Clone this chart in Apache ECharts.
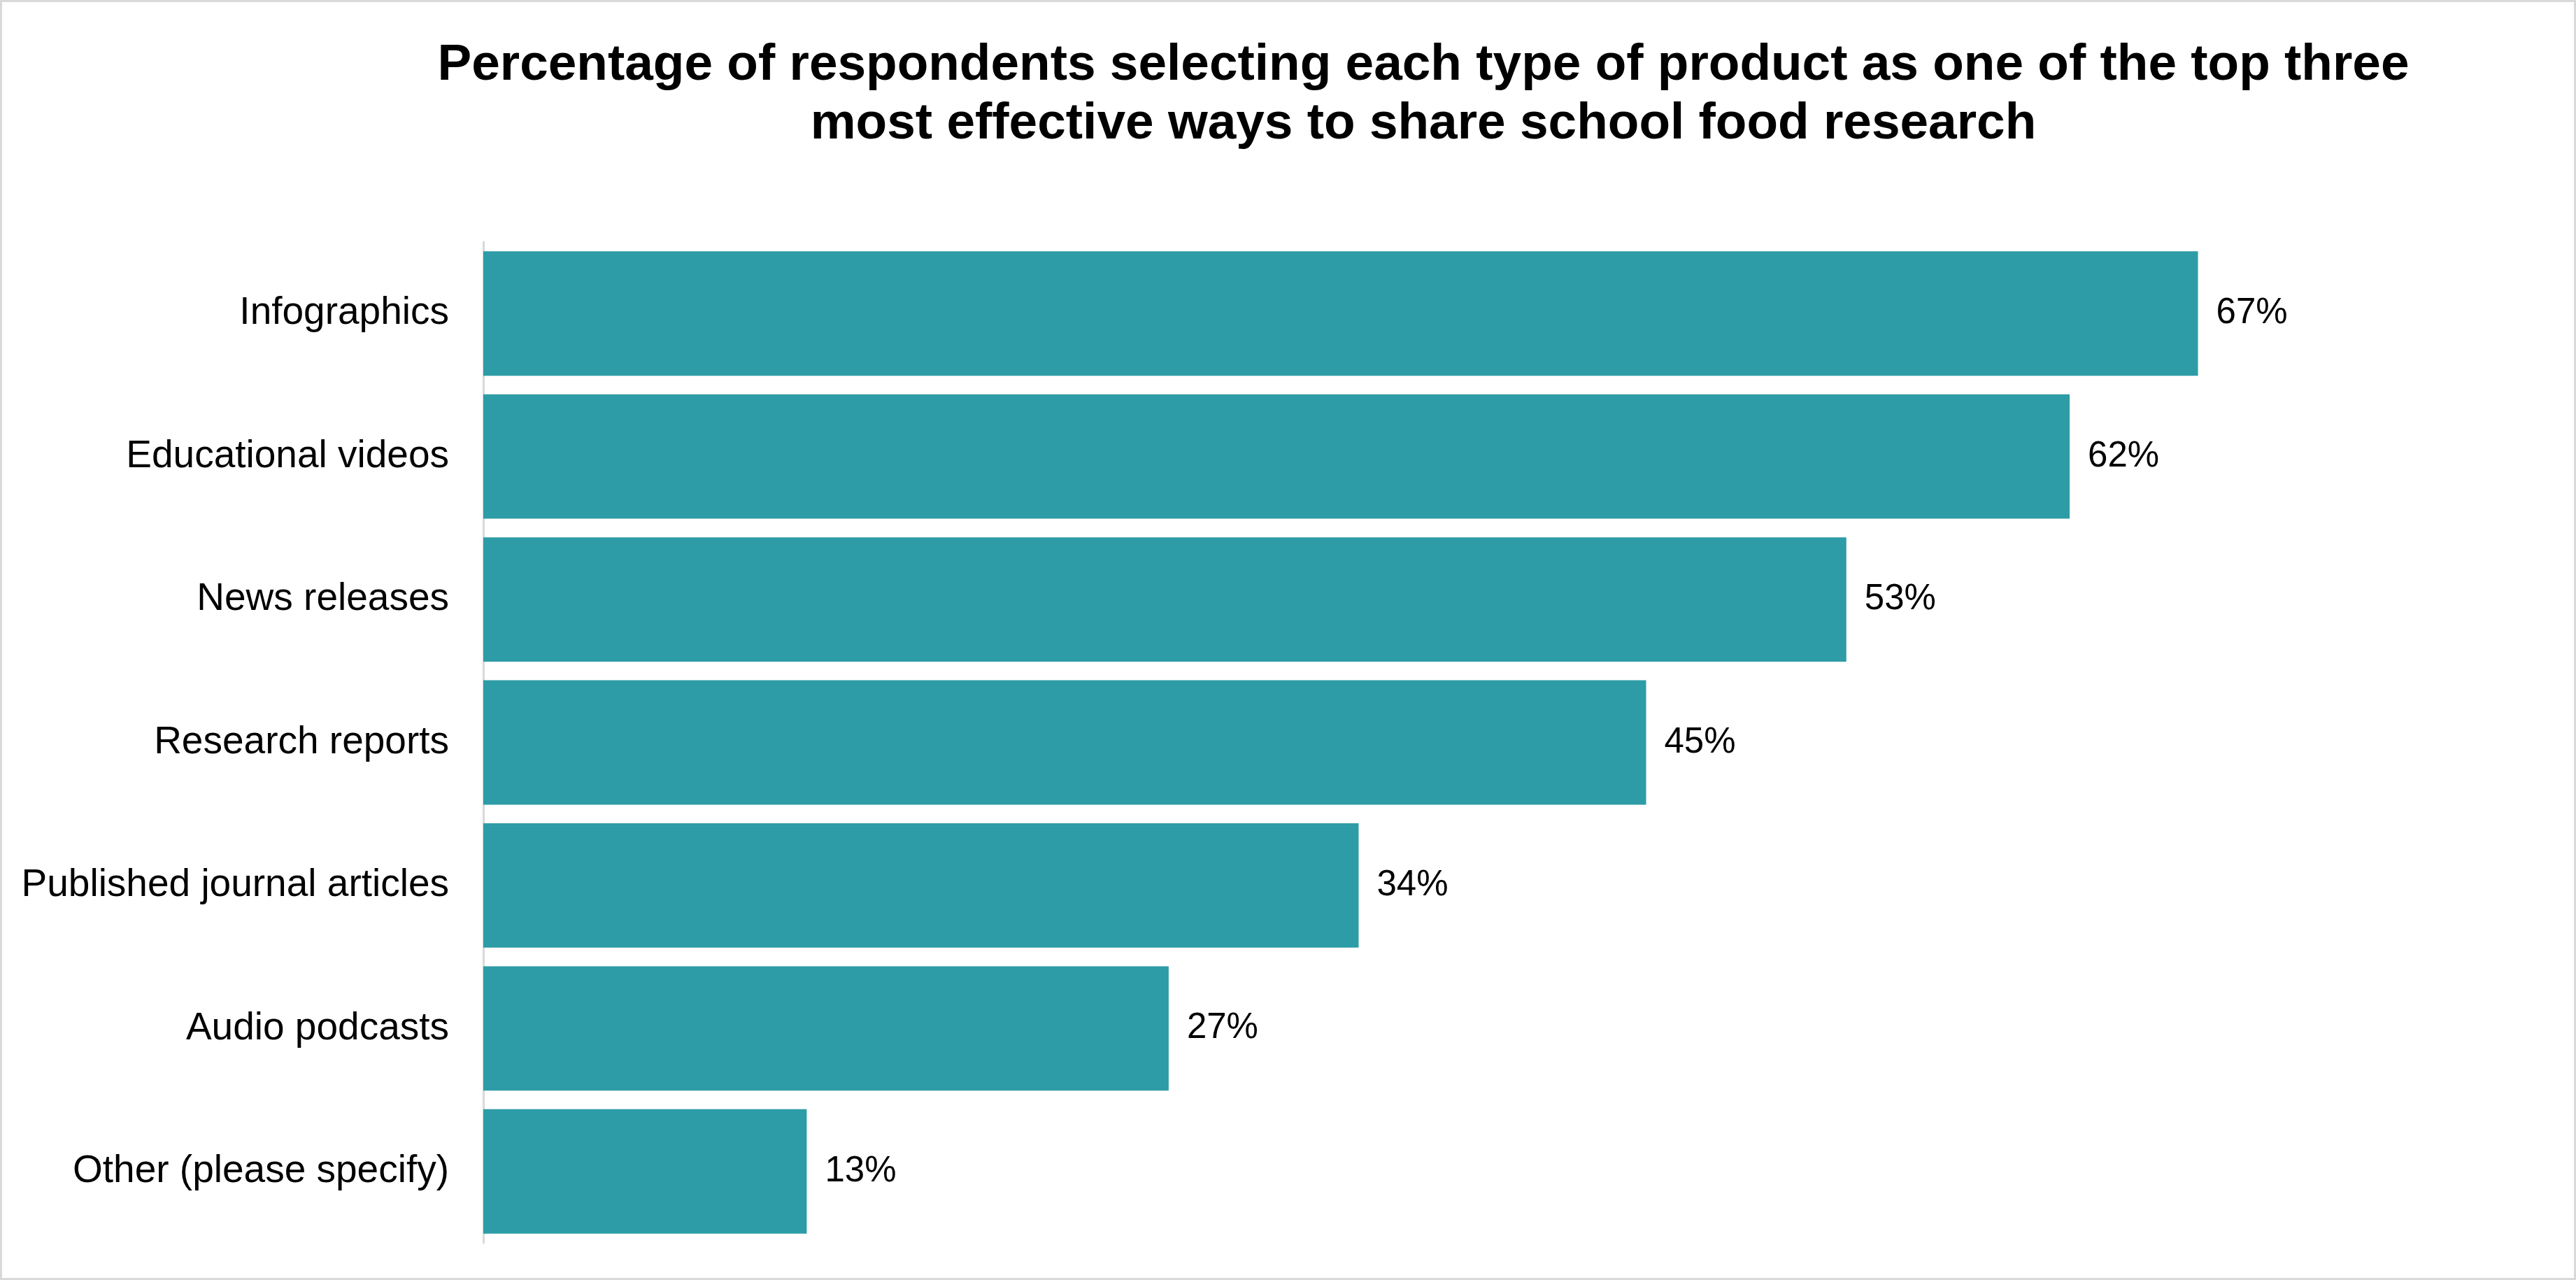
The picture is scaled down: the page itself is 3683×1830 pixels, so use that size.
<!DOCTYPE html>
<html>
<head>
<meta charset="utf-8">
<title>School food research products</title>
<script src="https://cdn.jsdelivr.net/npm/echarts@6/dist/echarts.min.js"></script>
<style>
	html, body { margin: 0; padding: 0; background: #fff; }
	#main { width: 3683px; height: 1830px; }
</style>
</head>
<body>
<div id="main"></div>
<script>
var categories = ['Infographics', 'Educational videos', 'News releases', 'Research reports',
	'Published journal articles', 'Audio podcasts', 'Other (please specify)'];
var percentages = [66.8, 61.8, 53.1, 45.3, 34.1, 26.7, 12.6];
var titleLines = ['Percentage of respondents selecting each type of product as one of the top three',
	'most effective ways to share school food research'];

var myChart = echarts.init(document.getElementById('main'));
var option = {
	backgroundColor : '#ffffff',
	animation : false,
	title : {
		text : titleLines.join('\n'),
		left : 2035,
		top : 52,
		padding : 0,
		textAlign : 'center',
		textStyle : {
			fontFamily : 'Liberation Sans, Arial, sans-serif',
			fontSize : 73,
			fontWeight : 'bold',
			lineHeight : 84,
			color : '#000'
		}
	},
	graphic : [ {
		type : 'rect',
		silent : true,
		shape : { x : 1.5, y : 1.5, width : 3680, height : 1827 },
		style : { fill : null, stroke : '#d9d9d9', lineWidth : 3 }
	} ],
	grid : {
		left : 691,
		right : 56,
		top : 346,
		bottom : 53
	},
	xAxis : [ {
		type : 'value',
		min : 0,
		max : 80,
		show : false
	} ],
	yAxis : [ {
		type : 'category',
		inverse : true,
		data : categories,
		axisLine : { show : true, lineStyle : { color : '#d9d9d9', width : 3 } },
		axisTick : { show : false },
		axisLabel : {
			margin : 49,
			fontFamily : 'Liberation Sans, Arial, sans-serif',
			fontSize : 55,
			color : '#000'
		}
	} ],
	series : [ {
		name : 'Respondents',
		type : 'bar',
		data : percentages,
		barCategoryGap : '13%',
		itemStyle : { color : '#2d9ca6' },
		label : {
			show : true,
			position : 'right',
			distance : 26,
			fontFamily : 'Liberation Sans, Arial, sans-serif',
			fontSize : 51,
			color : '#000',
			formatter : function(p) {
				return Math.round(p.value) + '%';
			}
		}
	} ]
};
myChart.setOption(option);
</script>
</body>
</html>
